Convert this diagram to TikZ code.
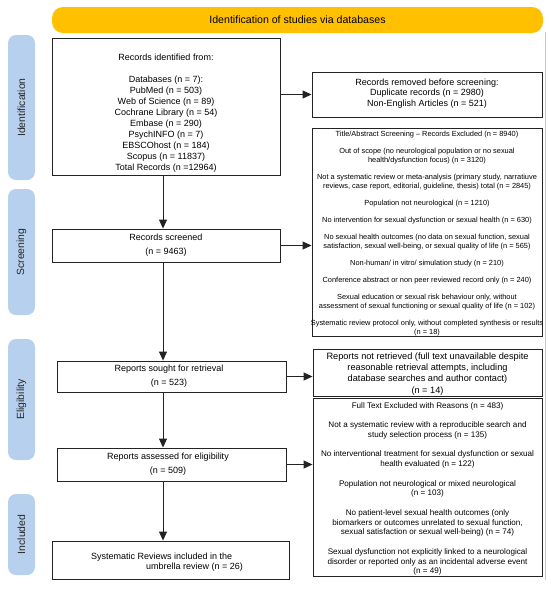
\documentclass[tikz,border=0pt]{standalone}
\usepackage{fontspec}
\setmainfont{Liberation Sans}
\usetikzlibrary{arrows.meta}
\definecolor{bannercol}{RGB}{255,192,0}
\definecolor{lblue}{RGB}{183,208,238}
\definecolor{boxline}{RGB}{35,35,35}
\begin{document}
\begin{tikzpicture}[x=1pt,y=-1pt,
  box/.style={draw=boxline, line width=0.9pt, inner sep=0pt},
  txt/.style={inner sep=0pt, align=center, text=black},
  phase/.style={fill=lblue, rounded corners=8pt, inner sep=0pt, minimum height=27pt,
    rotate=90, text=black!85, font=\fontsize{10.4}{12}\selectfont},
  arr/.style={draw=boxline, line width=0.9pt, -{Triangle[length=9pt,width=8pt]}},
  big/.style={font=\fontsize{9}{11}\selectfont},
  mid/.style={font=\fontsize{9.2}{11.2}\selectfont},
  small/.style={font=\fontsize{7.4}{8.6}\selectfont},
  smallb/.style={font=\fontsize{8.1}{9.8}\selectfont},
]
\useasboundingbox (0,0) rectangle (550,590);

% banner
\node[fill=bannercol, rounded corners=11pt, minimum width=491pt, minimum height=26pt,
  inner sep=0pt, font=\fontsize{10.6}{12}\selectfont] (banner) at (297.5,20) {Identification of studies via databases};

% right thin line
\draw[gray!45, line width=0.5pt] (545,32) -- (545,580);

% phases
\node[phase, minimum width=145pt] (pid) at (21.5,107.5) {Identification};
\node[phase, minimum width=126pt] (psc) at (21.5,252) {Screening};
\node[phase, minimum width=121pt] (pel) at (21.5,399.5) {Eligibility};
\node[phase, minimum width=81pt] (pin) at (21.5,534.5) {Included};

% left boxes
\node[box, minimum width=228pt, minimum height=137pt] (recid) at (166,106.5) {};
\node[txt, big] (recidt) at (166,113) {Records identified from:\\[11pt]Databases (n = 7):\\PubMed (n = 503)\\Web of Science (n = 89)\\Cochrane Library (n = 54)\\Embase (n = 290)\\PsychINFO (n = 7)\\EBSCOhost (n = 184)\\Scopus (n = 11837)\\Total Records (n =12964)};

\node[box, minimum width=228pt, minimum height=33pt] (screened) at (166,245.5) {};
\node[txt, font=\fontsize{9}{14}\selectfont] (screenedt) at (166,245) {Records screened\\(n = 9463)};

\node[box, minimum width=229pt, minimum height=31pt] (sought) at (171.5,376.5) {};
\node[txt, font=\fontsize{9}{14}\selectfont] (soughtt) at (169,376.5) {Reports sought for retrieval\\(n = 523)};

\node[box, minimum width=229pt, minimum height=33pt] (assessed) at (171.5,464.5) {};
\node[txt, font=\fontsize{9}{13.5}\selectfont] (assessedt) at (168,464) {Reports assessed for eligibility\\(n = 509)};

\node[box, minimum width=237pt, minimum height=38pt] (incl) at (170.5,560) {};
\node[txt, align=left, anchor=west, font=\fontsize{9}{9.8}\selectfont] (inclt) at (91,562.5) {Systematic Reviews included in the\\\hspace*{55pt}umbrella review (n = 26)};

% right boxes
\node[box, minimum width=230pt, minimum height=45pt] (removed) at (427,94.5) {};
\node[txt, font=\fontsize{9}{10.5}\selectfont] (removedt) at (427,93.5) {Records removed before screening:\\Duplicate records (n = 2980)\\Non-English Articles (n = 521)};

\node[box, minimum width=230pt, minimum height=208pt] (title) at (427,232) {};
\node[txt, small] (titlet) at (427,233.5) {Title/Abstract Screening -- Records Excluded (n = 8940)\\[8.6pt]
Out of scope (no neurological population or no sexual\\health/dysfunction focus) (n = 3120)\\[8.6pt]
Not a systematic review or meta-analysis (primary study, narratiuve\\reviews, case report, editorial, guideline, thesis) total (n = 2845)\\[8.6pt]
Population not neurological (n = 1210)\\[8.6pt]
No intervention for sexual dysfunction or sexual health (n = 630)\\[8.6pt]
No sexual health outcomes (no data on sexual function, sexual\\satisfaction, sexual well-being, or sexual quality of life (n = 565)\\[8.6pt]
Non-human/ in vitro/ simulation study (n = 210)\\[8.6pt]
Conference abstract or non peer reviewed record only (n = 240)\\[8.6pt]
Sexual education or sexual risk behaviour only, without\\assessment of sexual functioning or sexual quality of life (n = 102)\\[8.6pt]
Systematic review protocol only, without completed synthesis or results\\(n = 18)};

\node[box, minimum width=229pt, minimum height=47pt] (notret) at (427.5,372.5) {};
\node[txt, mid] (notrett) at (427.5,374) {Reports not retrieved (full text unavailable despite\\reasonable retrieval attempts, including\\database searches and author contact)\\(n = 14)};

\node[box, minimum width=229pt, minimum height=178pt] (full) at (427.5,487) {};
\node[txt, smallb] (fullt) at (427.5,489) {Full Text Excluded with Reasons (n = 483)\\[9.6pt]
Not a systematic review with a reproducible search and\\study selection process (n = 135)\\[9.6pt]
No interventional treatment for sexual dysfunction or sexual\\health evaluated (n = 122)\\[9.6pt]
Population not neurological or mixed neurological\\(n = 103)\\[9.6pt]
No patient-level sexual health outcomes (only\\biomarkers or outcomes unrelated to sexual function,\\sexual satisfaction or sexual well-being) (n = 74)\\[9.6pt]
Sexual dysfunction not explicitly linked to a neurological\\disorder or reported only as an incidental adverse event\\(n = 49)};

% spine coordinate
\coordinate (spine) at (163,0);

% vertical arrows
\draw[arr] (recid.south -| spine) -- (screened.north -| spine);
\draw[arr] (screened.south -| spine) -- (sought.north -| spine);
\draw[arr] (sought.south -| spine) -- (assessed.north -| spine);
\draw[arr] (assessed.south -| spine) -- (incl.north -| spine);

% horizontal arrows
\draw[arr] (recid.east |- removed.west) -- (removed.west);
\draw[arr] (screened.east) -- (screened.east -| title.west);
\draw[arr] (sought.east) -- (sought.east -| notret.west);
\draw[arr] (assessed.east) -- (assessed.east -| full.west);
\end{tikzpicture}
\end{document}
